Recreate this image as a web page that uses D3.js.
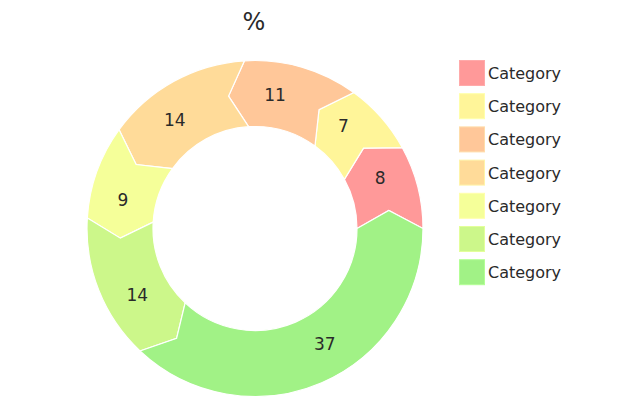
<!DOCTYPE html>
<html>
<head>
<meta charset="utf-8">
<script src="https://cdn.jsdelivr.net/npm/d3@7"></script>
<style>
html,body{margin:0;padding:0;background:#fff;}
svg{display:block;}
text{font-family:"DejaVu Sans",Verdana,sans-serif;}
</style>
</head>
<body>
<svg id="chart" width="640" height="414"></svg>
<script>
const title = "%";
const categories = ["Category","Category","Category","Category","Category","Category","Category"];
const values = [8, 7, 11, 14, 9, 14, 37];
const colors = ["#FF9999","#FFF599","#FFC799","#FFDB99","#F5FF99","#CCF78A","#A1F286"];

const svg = d3.select("#chart");
const cx = 255, cy = 228.5, rOuter = 168, rInner = 102, rMid = (rOuter + rInner) / 2;
const tip = 7.7 * Math.PI / 180;

const total = d3.sum(values);
// math angle, counter-clockwise from 3 o'clock
const ang = d3.scaleLinear().domain([0, total]).range([0, 2 * Math.PI]);
const cum = d3.cumsum(values);
const segs = values.map((v, i) => ({v, i, s: i === 0 ? 0 : cum[i - 1], e: cum[i]}));

const pt = (r, th) => [cx + r * Math.cos(th), cy - r * Math.sin(th)];

function segPath(d) {
  const t0 = ang(d.s), t1 = ang(d.e);
  const p = d3.path();
  const a = pt(rOuter, t0);
  p.moveTo(a[0], a[1]);
  p.arc(cx, cy, rOuter, -t0, -t1, true);
  const b = pt(rMid, t1 + tip); p.lineTo(b[0], b[1]);
  const c = pt(rInner, t1); p.lineTo(c[0], c[1]);
  p.arc(cx, cy, rInner, -t1, -t0, false);
  const e = pt(rMid, t0 + tip); p.lineTo(e[0], e[1]);
  p.closePath();
  return p.toString();
}

svg.append("g").selectAll("path").data(segs).join("path")
  .attr("d", segPath)
  .attr("fill", d => colors[d.i])
  .attr("stroke", "#fff")
  .attr("stroke-width", 1.2)
  .attr("stroke-linejoin", "miter");

svg.append("g").selectAll("text").data(segs).join("text")
  .attr("x", d => pt(rMid, (ang(d.s) + ang(d.e)) / 2 + tip)[0])
  .attr("y", d => pt(rMid, (ang(d.s) + ang(d.e)) / 2 + tip)[1])
  .attr("text-anchor", "middle")
  .attr("dominant-baseline", "central")
  .attr("font-size", 17)
  .attr("fill", "#2a2a2a")
  .text(d => d.v);

svg.append("text")
  .attr("x", 254).attr("y", 30)
  .attr("text-anchor", "middle")
  .attr("font-size", 24)
  .attr("fill", "#2a2a2a")
  .text(title);

const leg = svg.append("g").selectAll("g").data(categories).join("g")
  .attr("transform", (d, i) => `translate(459,${60 + i * 33.2})`);
leg.append("rect")
  .attr("x", 0.5).attr("y", 0.5).attr("width", 25).attr("height", 25)
  .attr("fill", (d, i) => colors[i])
  .attr("stroke", (d, i) => d3.color(colors[i]).brighter(0.3))
  .attr("stroke-width", 1);
leg.append("text")
  .attr("x", 29).attr("y", 13.5)
  .attr("dominant-baseline", "central")
  .attr("font-size", 16)
  .attr("fill", "#2a2a2a")
  .text(d => d);
</script>
</body>
</html>
